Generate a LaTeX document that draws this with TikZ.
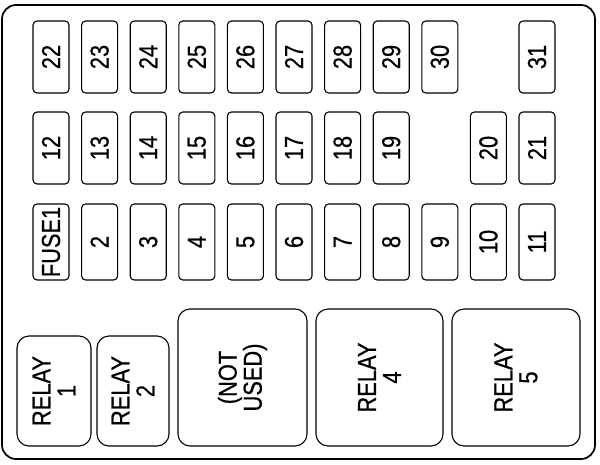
\documentclass[tikz,border=0pt]{standalone}
\usepackage{fontspec}
\setmainfont[FakeStretch=0.84, FakeBold=0.6]{Liberation Sans}
\tikzset{
  fusebox/.style  = {shape=rectangle, rounded corners=4pt, draw,
                     line width=1.1pt, rotate=90, inner sep=0pt,
                     minimum width=72pt, minimum height=36pt,
                     font=\fontsize{26}{25}\selectfont},
  fuselow/.style  = {fusebox, minimum width=76pt},
  relaybox/.style = {shape=rectangle, rounded corners=12pt, draw,
                     line width=1.1pt, rotate=90, inner sep=0pt,
                     align=center, font=\fontsize{26}{25}\selectfont}
}
\begin{document}
\begin{tikzpicture}[x=1pt, y=-1pt]
  \useasboundingbox (0,0) rectangle (600,464);
  \draw [line width=1.7pt, rounded corners=14pt] (2,5) rectangle (595,459);
  % top row
  \foreach \n [count=\i from 0] in {22,...,30}
    \node [fusebox] (f\n) at (51+48.6*\i,57) {\n};
  \node [fusebox] (f31) at (537,57) {31};
  % middle row
  \foreach \n [count=\i from 0] in {12,...,19}
    \node [fusebox] (f\n) at (51+48.6*\i,148) {\n};
  \node [fusebox] (f20) at (488.4,148) {20};
  \node [fusebox] (f21) at (537,148) {21};
  % bottom row
  \node [fuselow] (f1) at (51,242) {FUSE1};
  \foreach \n [count=\i from 1] in {2,...,11}
    \node [fuselow] (f\n) at (51+48.6*\i,242) {\n};
  % relays
  \node [relaybox, minimum width=110pt, minimum height=74pt]  (r1) at (54,391)    {RELAY\\1};
  \node [relaybox, minimum width=110pt, minimum height=72pt]  (r2) at (133,391)   {RELAY\\2};
  \node [relaybox, minimum width=137pt, minimum height=129pt] (nu) at (242.5,377.5) {(NOT\\USED)};
  \node [relaybox, minimum width=137pt, minimum height=127pt] (r4) at (379.5,377.5) {RELAY\\4};
  \node [relaybox, minimum width=137pt, minimum height=128pt] (r5) at (516,377.5)   {RELAY\\5};
\end{tikzpicture}
\end{document}
